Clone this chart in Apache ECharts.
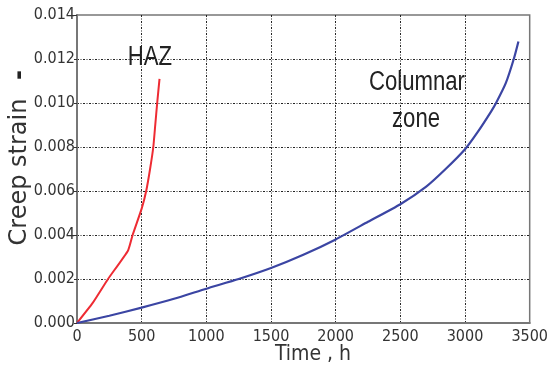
<!DOCTYPE html>
<html><head><meta charset="utf-8">
<script src="https://cdn.jsdelivr.net/npm/echarts@6/dist/echarts.min.js"></script>
<style>html,body{margin:0;padding:0;background:#fff}#c{width:551px;height:370px}</style>
</head><body><div id="c"></div>
<script>
// Data
const hazTime   = [0, 120, 240, 395, 430, 500, 535, 565, 590, 605, 620, 638];
const hazStrain = [0, 0.0009, 0.002, 0.0033, 0.004, 0.0052, 0.006, 0.007, 0.008, 0.009, 0.010, 0.0111];
const colTime   = [0, 250, 500, 750, 1000, 1250, 1500, 1750, 2000, 2250, 2500, 2700, 2850, 3000, 3100, 3200, 3240, 3315, 3377, 3413];
const colStrain = [0, 0.00033, 0.0007, 0.0011, 0.00156, 0.002, 0.0025, 0.0031, 0.0038, 0.0046, 0.0054, 0.0062, 0.0070, 0.0079, 0.0087, 0.0096, 0.0100, 0.0109, 0.0120, 0.0128];
const xTicks = [0, 500, 1000, 1500, 2000, 2500, 3000, 3500];
const yTicks = ['0.000', '0.002', '0.004', '0.006', '0.008', '0.010', '0.012', '0.014'];
const xName = 'Time , h';
const yName = 'Creep strain';
const yUnit = '-';
const labels = ['HAZ', 'Columnar', 'zone'];

const chart = echarts.init(document.getElementById('c'));
const gridLine = {show: true, showMinLine: false, showMaxLine: false,
  lineStyle: {color: '#222', width: 1, type: [2, 1.5, 1, 1.5]}};
const tickFont = {fontFamily: 'DejaVu Sans Condensed, DejaVu Sans, sans-serif', fontSize: 16, color: '#333'};
const labelFont = '27px "Liberation Sans", Arial, sans-serif';
chart.setOption({
  animation: false,
  grid: {left: 77, right: 19, top: 15, bottom: 47, show: true, borderColor: '#777', borderWidth: 1.5},
  xAxis: {type: 'value', min: 0, max: 3500, interval: 500,
    axisLine: {show: true, onZero: false, lineStyle: {color: '#777', width: 2}},
    axisTick: {show: false},
    axisLabel: Object.assign({margin: 6, formatter: v => String(v)}, tickFont),
    splitLine: gridLine},
  yAxis: {type: 'value', min: 0, max: 0.014, interval: 0.002,
    axisLine: {show: true, lineStyle: {color: '#777', width: 2}},
    axisTick: {show: true, length: 3, lineStyle: {color: '#333'}},
    axisLabel: Object.assign({margin: 2, formatter: v => yTicks[Math.round(v / 0.002)]}, tickFont),
    splitLine: gridLine},
  series: [
    {type: 'line', data: hazTime.map((t, i) => [t, hazStrain[i]]), showSymbol: false,
     lineStyle: {color: '#ee2b33', width: 2}, smooth: 0.15},
    {type: 'line', data: colTime.map((t, i) => [t, colStrain[i]]), showSymbol: false,
     lineStyle: {color: '#3b45a3', width: 2.2}, smooth: 0.2}
  ],
  graphic: [
    {type: 'text', x: 20, y: 172, rotation: Math.PI / 2,
     style: {text: yName, font: '24px "DejaVu Sans", sans-serif', fill: '#333', align: 'center', verticalAlign: 'middle'}},
    {type: 'text', x: 20, y: 75, rotation: Math.PI / 2,
     style: {text: yUnit, font: 'bold 24px "DejaVu Sans", sans-serif', fill: '#222', align: 'center', verticalAlign: 'middle'}},
    {type: 'text', x: 313, y: 355,
     style: {text: xName, font: '21px "DejaVu Sans Condensed", "DejaVu Sans", sans-serif', fill: '#333', align: 'center', verticalAlign: 'middle'}},
    {type: 'text', x: 150, y: 58, scaleX: 0.82,
     style: {text: labels[0], font: labelFont, fill: '#222', align: 'center', verticalAlign: 'middle'}},
    {type: 'text', x: 417, y: 83, scaleX: 0.82,
     style: {text: labels[1], font: labelFont, fill: '#222', align: 'center', verticalAlign: 'middle'}},
    {type: 'text', x: 416, y: 120, scaleX: 0.82,
     style: {text: labels[2], font: labelFont, fill: '#222', align: 'center', verticalAlign: 'middle'}}
  ]
});
</script></body></html>
